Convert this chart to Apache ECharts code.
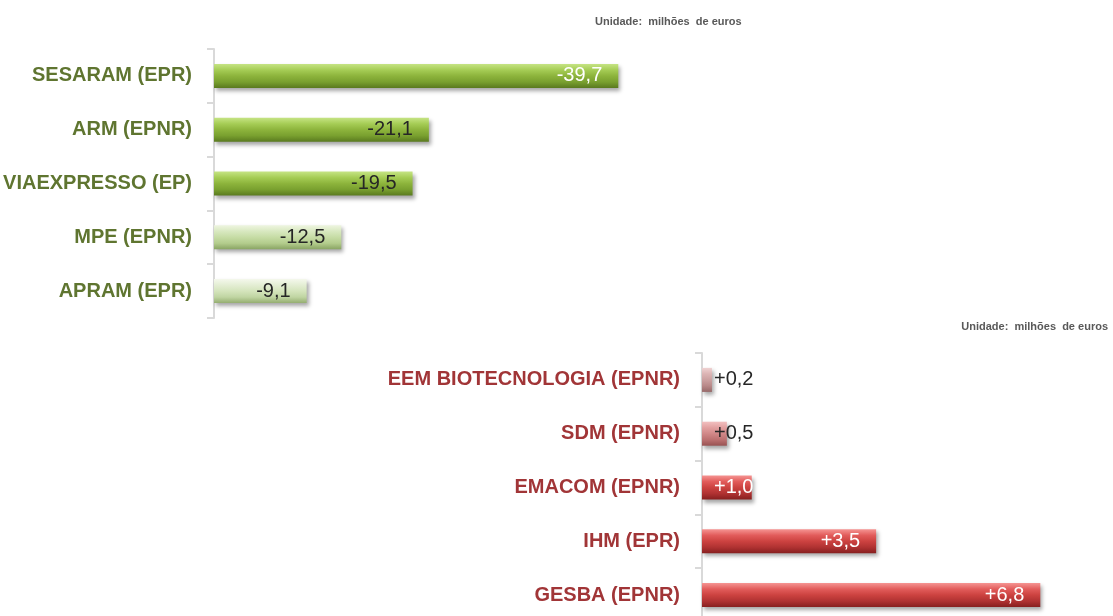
<!DOCTYPE html>
<html>
<head>
<meta charset="utf-8">
<script src="https://cdn.jsdelivr.net/npm/echarts@6/dist/echarts.min.js"></script>
<style>
    html, body { margin: 0; padding: 0; background: #fff; }
    #grafico { width: 1113px; height: 616px; }
</style>
</head>
<body>
<div id="grafico"></div>
<script>
// Datos: empresas con resultado negativo (arriba) y positivo (abajo)
const empresasNeg = ['SESARAM (EPR)', 'ARM (EPNR)', 'VIAEXPRESSO (EP)', 'MPE (EPNR)', 'APRAM (EPR)'];
const valoresNeg = [-39.7, -21.1, -19.5, -12.5, -9.1];

const empresasPos = ['EEM BIOTECNOLOGIA (EPNR)', 'SDM (EPNR)', 'EMACOM (EPNR)', 'IHM (EPR)', 'GESBA (EPNR)'];
const valoresPos = [0.2, 0.5, 1.0, 3.5, 6.8];

const unidade = 'Unidade:  milhões  de euros';

// ----------------------------------------------
// estilos de barra (degradados tipo "bisel")
// ----------------------------------------------
function degradado(paradas) {
    return new echarts.graphic.LinearGradient(0, 0, 0, 1,
        paradas.map((c, i) => ({ offset: i / (paradas.length - 1), color: c })));
}

const verdeFuerte = degradado(['#c6e485', '#a6cd56', '#8db43c', '#79a02f', '#5a7a1f']);
const verdeClaro = degradado(['#eef5e0', '#d8e8c0', '#c6dca5', '#b3cc8c', '#89a463']);
const verdePalido = degradado(['#f4f8ec', '#e4eed4', '#d4e4bc', '#c0d5a2', '#94ad70']);
const rojoFuerte = degradado(['#f59492', '#e25c5b', '#cc4240', '#b03232', '#861f1f']);
const rosa = degradado(['#f2c0c0', '#e2a0a0', '#d08888', '#bb7070', '#985252']);
const rosaPalido = degradado(['#efd2d2', '#dcb4b4', '#cba0a0', '#b88888', '#966868']);

const estiloNeg = [verdeFuerte, verdeFuerte, verdeFuerte, verdeClaro, verdePalido];
const textoNeg = ['#ffffff', '#262626', '#262626', '#262626', '#262626'];
const estiloPos = [rosaPalido, rosa, rojoFuerte, rojoFuerte, rojoFuerte];
const textoPos = ['#262626', '#262626', '#ffffff', '#ffffff', '#ffffff'];

const sombra = {
    shadowColor: 'rgba(0,0,0,0.35)',
    shadowBlur: 4,
    shadowOffsetX: 2,
    shadowOffsetY: 3
};

function fmt(v) {
    const s = Math.abs(v).toFixed(1).replace('.', ',');
    return (v < 0 ? '-' : '+') + s;
}

const fuente = '"Liberation Sans", Arial, sans-serif';

const datosNeg = valoresNeg.map((v, i) => ({
    value: v,
    itemStyle: Object.assign({ color: estiloNeg[i] }, sombra),
    label: { color: textoNeg[i] }
}));

const datosPos = valoresPos.map((v, i) => {
    const item = {
        value: v,
        itemStyle: Object.assign({ color: estiloPos[i] }, sombra),
        label: { color: textoPos[i] }
    };
    if (i < 3) {
        item.label.position = 'insideLeft';
        item.label.distance = 12;
    }
    return item;
});

const ejeCategoria = (datos, color, grid) => ({
    type: 'category',
    gridIndex: grid,
    data: datos,
    inverse: true,
    axisLine: { show: true, lineStyle: { color: '#d9d9d9', width: 2 } },
    axisTick: { show: true, length: 7, lineStyle: { color: '#d9d9d9', width: 2 } },
    axisLabel: {
        margin: 22,
        color: color,
        fontFamily: fuente,
        fontWeight: 'bold',
        fontSize: 20
    }
});

const estiloUnidade = { fontFamily: fuente, fontSize: 11, fontWeight: 'bold', color: '#595959' };

const option = {
    backgroundColor: '#ffffff',
    animation: false,
    title: [
        { text: unidade, left: 590, top: 11, textStyle: estiloUnidade },
        { text: unidade, right: 0, top: 316, textStyle: estiloUnidade }
    ],
    grid: [
        { left: 214, top: 49, width: 611, height: 269, outerBoundsMode: 'none', containLabel: false },
        { left: 702, top: 353, width: 398, height: 269, outerBoundsMode: 'none', containLabel: false }
    ],
    xAxis: [
        { type: 'value', gridIndex: 0, min: -60, max: 0, inverse: true, show: false },
        { type: 'value', gridIndex: 1, min: 0, max: 8, show: false }
    ],
    yAxis: [
        ejeCategoria(empresasNeg, '#5f7530', 0),
        ejeCategoria(empresasPos, '#a13537', 1)
    ],
    series: [
        {
            type: 'bar',
            xAxisIndex: 0,
            yAxisIndex: 0,
            barWidth: 24,
            data: datosNeg,
            label: {
                show: true,
                position: 'insideRight',
                distance: 16,
                fontFamily: fuente,
                fontSize: 20,
                formatter: p => fmt(p.value)
            }
        },
        {
            type: 'bar',
            xAxisIndex: 1,
            yAxisIndex: 1,
            barWidth: 24,
            data: datosPos,
            label: {
                show: true,
                position: 'insideRight',
                distance: 16,
                fontFamily: fuente,
                fontSize: 20,
                formatter: p => fmt(p.value)
            }
        }
    ]
};

const grafico = echarts.init(document.getElementById('grafico'));
grafico.setOption(option);
</script>
</body>
</html>
